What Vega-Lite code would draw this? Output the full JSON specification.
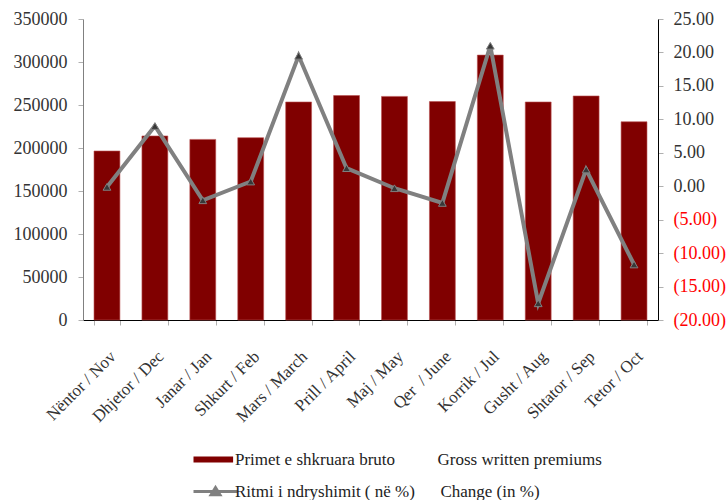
{
  "$schema": "https://vega.github.io/schema/vega-lite/v6.json",
  "width": 575,
  "height": 301,
  "padding": {"left": 13, "top": 10, "right": 0, "bottom": 0},
  "config": {
    "view": {"stroke": null},
    "font": "Liberation Serif",
    "style": {"guide-label": {"font": "Liberation Serif"}},
    "axis": {"labelFont": "Liberation Serif", "labelFontSize": 18, "labelColor": "#333", "grid": false, "ticks": true, "tickColor": "#b0b0b0", "tickSize": 5, "title": null},
    "legend": {"labelFont": "Liberation Serif", "labelFontSize": 17, "labelColor": "#222", "padding": 0, "labelLimit": 600}
  },
  "data": {
    "values": [
      {"month": "Nëntor / Nov", "premiums": 196500, "change": -0.1},
      {"month": "Dhjetor / Dec", "premiums": 214000, "change": 9.0},
      {"month": "Janar / Jan", "premiums": 210000, "change": -2.1},
      {"month": "Shkurt / Feb", "premiums": 212000, "change": 0.7},
      {"month": "Mars / March", "premiums": 253500, "change": 19.5},
      {"month": "Prill / April", "premiums": 261000, "change": 2.7},
      {"month": "Maj / May", "premiums": 260000, "change": -0.3},
      {"month": "Qer \u00a0/ June", "premiums": 254000, "change": -2.5},
      {"month": "Korrik / Jul", "premiums": 308000, "change": 21.0},
      {"month": "Gusht / Aug", "premiums": 253500, "change": -17.5},
      {"month": "Shtator / Sep", "premiums": 260500, "change": 2.5},
      {"month": "Tetor / Oct", "premiums": 230500, "change": -11.7}
    ]
  },
  "encoding": {
    "x": {
      "field": "month", "type": "nominal", "sort": null,
      "scale": {"paddingInner": 0.46, "paddingOuter": 0.23},
      "axis": {"labelAngle": -45, "labelFont": "Liberation Serif", "labelFontSize": 17, "labelPadding": 23, "tickBand": "extent", "domainColor": "#000", "tickColor": "#b0b0b0"}
    }
  },
  "layer": [
    {
      "mark": {"type": "bar", "stroke": "#b85050", "strokeWidth": 0.6},
      "encoding": {
        "y": {"field": "premiums", "type": "quantitative",
          "scale": {"domain": [0, 350000], "nice": false},
          "axis": {"values": [0, 50000, 100000, 150000, 200000, 250000, 300000, 350000], "format": "d", "labelFont": "Liberation Serif", "domainColor": "#808080", "labelPadding": 11}},
        "color": {"datum": "Primet e shkruara bruto\u00a0\u00a0\u00a0\u00a0\u00a0\u00a0\u00a0\u00a0\u00a0 Gross written premiums",
          "scale": {"range": ["#800000", "#808080"]},
          "legend": {
            "orient": "none", "legendX": 124, "legendY": 432, "direction": "vertical",
            "title": null, "symbolSize": 484, "labelOffset": 11, "rowPadding": 13,
            "encode": {"symbols": {"update": {
              "shape": {"signal": "datum.value < 'Q' ? 'M-2,-0.28H1.6V0.28H-2Z' : 'M-2,0H2M-0.4,0.3L0,-0.35L0.4,0.3Z'"},
              "fill": {"signal": "datum.value < 'Q' ? '#800000' : '#404040'"},
              "stroke": {"signal": "datum.value < 'Q' ? '#800000' : '#808080'"},
              "strokeWidth": {"signal": "datum.value < 'Q' ? 0 : 3"},
              "opacity": {"value": 1},
              "fillOpacity": {"value": 1}
            }}}
          }
        }
      }
    },
    {
      "layer": [
        {
          "mark": {"type": "line", "strokeWidth": 4},
          "encoding": {
            "y": {"field": "change", "type": "quantitative"},
            "color": {"datum": "Ritmi i ndryshimit ( në %)\u00a0\u00a0\u00a0\u00a0\u00a0 Change (in %)",
              "legend": {
                "orient": "none", "legendX": 124, "legendY": 432, "direction": "vertical",
                "title": null, "symbolSize": 484, "labelOffset": 11, "rowPadding": 13,
                "encode": {"symbols": {"update": {
                  "shape": {"signal": "datum.value < 'Q' ? 'M-2,-0.28H1.6V0.28H-2Z' : 'M-2,0H2M-0.4,0.3L0,-0.35L0.4,0.3Z'"},
                  "fill": {"signal": "datum.value < 'Q' ? '#800000' : '#404040'"},
                  "stroke": {"signal": "datum.value < 'Q' ? '#800000' : '#808080'"},
                  "strokeWidth": {"signal": "datum.value < 'Q' ? 0 : 3"},
                  "opacity": {"value": 1},
                  "fillOpacity": {"value": 1}
                }}}
              }
            }
          }
        },
        {
          "mark": {"type": "point", "shape": "triangle-up", "filled": true, "fill": "#383838", "stroke": "#808080", "strokeWidth": 1, "size": 60, "opacity": 1},
          "encoding": {
            "y": {"field": "change", "type": "quantitative"}
          }
        }
      ],
      "encoding": {
        "y": {"field": "change", "type": "quantitative",
          "scale": {"domain": [-20, 25], "nice": false},
          "axis": {"orient": "right", "values": [-20, -15, -10, -5, 0, 5, 10, 15, 20, 25],
            "labelExpr": "datum.value < 0 ? '(' + format(-datum.value, '.2f') + ')' : format(datum.value, '.2f')",
            "labelColor": {"condition": {"test": "datum.value < 0", "value": "#ff0000"}, "value": "#333"},
            "labelFont": "Liberation Serif",
            "domainColor": "#000", "labelPadding": 10}}
      }
    }
  ],
  "resolve": {"scale": {"y": "independent"}}
}
